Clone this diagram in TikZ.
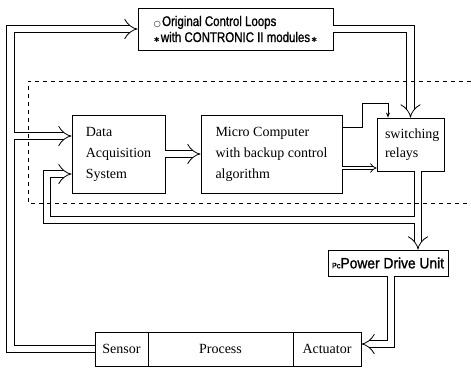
\documentclass[tikz,border=0pt]{standalone}
\usepackage{fontspec}
\setmainfont{Liberation Serif}
\newfontfamily\condfont[FakeStretch=0.82,FakeBold=1.2]{Liberation Sans}
\newfontfamily\widefont[FakeStretch=0.92,FakeBold=1.2]{Liberation Sans}
\newfontfamily\symfont{DejaVu Sans}
\usetikzlibrary{arrows.meta,calc}
\begin{document}
\begin{tikzpicture}[x=1pt,y=-1pt,
 box/.style={draw,line width=0.9pt,inner sep=0pt,font=\fontsize{14}{21}\selectfont},
 pipe/.style={double,double distance=6.5pt,line width=0.8pt,-{Implies}},
 patch/.style={white,line width=6.5pt},
 wire/.style={line width=0.8pt,-{Stealth[length=5pt,width=4pt]}},
 dashbox/.style={line width=0.8pt,dash pattern=on 4pt off 4pt},
]
\useasboundingbox (0,0) rectangle (471,368);

\node[box,minimum width=195pt,minimum height=42pt,align=left,font=\condfont\fontsize{14}{16}\selectfont] (top) at (235.5,29)
 {{\symfont\fontsize{8}{8}\selectfont ○\,}Original Control Loops\\{\symfont\fontsize{7}{7}\selectfont ✱\,}with CONTRONIC II modules{\symfont\fontsize{7}{7}\selectfont\,✱}};
\node[box,minimum width=93pt,minimum height=78pt,align=left] (daq) at (118.5,154) {Data\\Acquisition\\System};
\node[box,minimum width=141pt,minimum height=78pt,align=left] (mc) at (271.5,154) {Micro Computer\\with backup control\\algorithm};
\node[box,minimum width=67pt,minimum height=53pt,text width=51pt,align=left,font=\fontsize{14}{19}\selectfont] (sw) at (410.5,144.5) {switching\\relays};
\node[box,minimum width=120pt,minimum height=26pt,font=\widefont\fontsize{15}{17}\selectfont] (pdu) at (388,263) {{\fontsize{8}{8}\selectfont Pc}Power Drive Unit};
\node[box,minimum width=53pt,minimum height=34pt] (sen) at (121.5,349) {Sensor};
\node[box,minimum width=145pt,minimum height=34pt] (proc) at (220.5,349) {Process};
\node[box,minimum width=68pt,minimum height=34pt] (act) at (327,349) {Actuator};

% pipes
\draw[pipe] (sen.west) -| (10.5,29) -- (top.west);
\draw[pipe] (14.5,136) -- (14.5,136 -| daq.west);
\draw[patch] (13,136) -- (16,136);
\draw[pipe] (top.east) -| (sw.north);
\draw[pipe] (418,0 |- sw.south) -- (418,0 |- pdu.north);
\draw[pipe] (414,220) -| (47,174) -- (47,174 -| daq.west);
\draw[patch] (413,220) -- (416,220);
\draw[pipe] (daq.east) -- (mc.west);
\draw[pipe,double distance=2.5pt] (mc.east |- 0,168) -- (sw.west |- 0,168);
\draw[wire] (mc.east |- 0,127) -| (362,103) -| (388,0 |- sw.north);
\draw[pipe] (391,0 |- pdu.south) |- (act.east |- 0,344);

\draw[dashbox] (471,81) -- (28,81) -- (28,203) -- (471,203);
\end{tikzpicture}
\end{document}
